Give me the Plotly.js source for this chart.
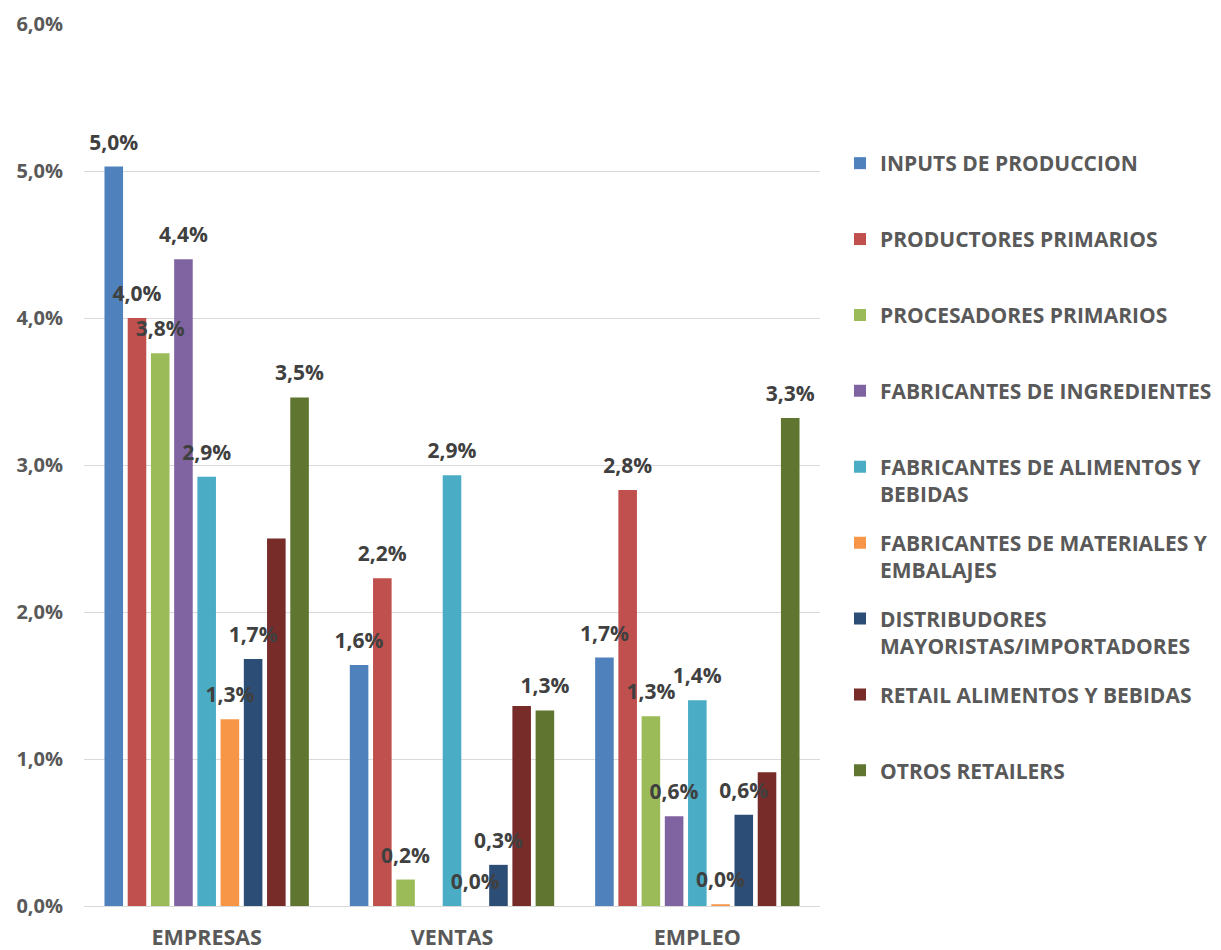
<!DOCTYPE html>
<html>
<head>
<meta charset="utf-8">
<script src="https://cdn.plot.ly/plotly-3.0.1.min.js"></script>
<style>
  html, body { margin: 0; padding: 0; background: #ffffff; }
  #chart { width: 1221px; height: 950px; }
</style>
</head>
<body>
<div id="chart"></div>
<script>
// ---- data ----
var categories = ['EMPRESAS', 'VENTAS', 'EMPLEO'];

var seriesNames = [
  'INPUTS DE PRODUCCION',
  'PRODUCTORES PRIMARIOS',
  'PROCESADORES PRIMARIOS',
  'FABRICANTES DE INGREDIENTES',
  'FABRICANTES DE ALIMENTOS Y<br>BEBIDAS',
  'FABRICANTES DE MATERIALES Y<br>EMBALAJES',
  'DISTRIBUDORES<br>MAYORISTAS/IMPORTADORES',
  'RETAIL ALIMENTOS Y BEBIDAS',
  'OTROS RETAILERS'
];

var inputs         = [5.03, 1.64, 1.69];
var productores    = [4.00, 2.23, 2.83];
var procesadores   = [3.76, 0.18, 1.29];
var ingredientes   = [4.40, null, 0.61];
var alimentos      = [2.92, 2.93, 1.40];
var materiales     = [1.27, 0.00, 0.012];
var distribuidores = [1.68, 0.28, 0.62];
var retail         = [2.50, 1.36, 0.91];
var otros          = [3.46, 1.33, 3.32];

var inputsLbl         = ['5,0%', '1,6%', '1,7%'];
var productoresLbl    = ['4,0%', '2,2%', '2,8%'];
var procesadoresLbl   = ['3,8%', '0,2%', '1,3%'];
var ingredientesLbl   = ['4,4%', '', '0,6%'];
var alimentosLbl      = ['2,9%', '2,9%', '1,4%'];
var materialesLbl     = ['1,3%', '0,0%', '0,0%'];
var distribuidoresLbl = ['1,7%', '0,3%', '0,6%'];
var retailLbl         = ['', '', ''];
var otrosLbl          = ['3,5%', '1,3%', '3,3%'];

var yTickVals  = [0, 1, 2, 3, 4, 5, 6];
var yTickText  = ['0,0%', '1,0%', '2,0%', '3,0%', '4,0%', '5,0%', '6,0%'];

// ---- styling ----
var colors = ['#4F81BD', '#C0504D', '#9BBB59', '#8064A2', '#4BACC6',
              '#F79646', '#2C4D75', '#772C2A', '#5F7530'];

var values = [inputs, productores, procesadores, ingredientes, alimentos,
              materiales, distribuidores, retail, otros];
var labels = [inputsLbl, productoresLbl, procesadoresLbl, ingredientesLbl, alimentosLbl,
              materialesLbl, distribuidoresLbl, retailLbl, otrosLbl];

var FONT = 'Open Sans, Noto Sans, Liberation Sans, sans-serif';

// pixel geometry of the plot area
var W = 1221, H = 950;
var mL = 84, mR = 401, mT = 24, mB = 44;
var plotW = W - mL - mR, plotH = H - mT - mB;
var pxPerUnit = plotH / 6;
var labelLiftPx = 8;

var traces = [];
values.forEach(function (vals, i) {
  traces.push({
    type: 'bar',
    name: seriesNames[i],
    x: categories,
    y: vals,
    marker: { color: colors[i], line: { width: 0 } },
    legend: i === 0 ? 'legend' : 'legend' + (i + 1),
    hoverinfo: 'skip'
  });
});
// label layer drawn above all bars
values.forEach(function (vals, i) {
  traces.push({
    type: 'bar',
    name: seriesNames[i],
    x: categories,
    y: vals,
    xaxis: 'x2',
    yaxis: 'y2',
    marker: { color: 'rgba(0,0,0,0)', line: { width: 0 } },
    text: labels[i],
    textposition: 'outside',
    constraintext: 'none',
    cliponaxis: false,
    textfont: { family: FONT, size: 21, color: '#404040', weight: 'bold' },
    showlegend: false,
    hoverinfo: 'skip'
  });
});

var layout = {
  width: W,
  height: H,
  margin: { l: mL, r: mR, t: mT, b: mB, pad: 0, autoexpand: false },
  paper_bgcolor: '#ffffff',
  plot_bgcolor: '#ffffff',
  separators: ',.',
  barmode: 'group',
  bargap: 0.148,
  bargroupgap: 0.2,
  showlegend: true,
  xaxis: {
    type: 'category',
    categoryorder: 'array',
    categoryarray: categories,
    showgrid: false,
    zeroline: false,
    showline: false,
    ticks: '',
    ticklabelstandoff: 16,
    tickfont: { family: FONT, size: 21.5, color: '#595959', weight: 'bold' },
    automargin: false,
    fixedrange: true
  },
  xaxis2: {
    type: 'category',
    overlaying: 'x',
    matches: 'x',
    visible: false,
    fixedrange: true
  },
  yaxis: {
    range: [0, 6],
    tickmode: 'array',
    tickvals: yTickVals,
    ticktext: yTickText,
    showgrid: true,
    gridcolor: '#D9D9D9',
    gridwidth: 1,
    zeroline: true,
    zerolinecolor: '#D9D9D9',
    zerolinewidth: 1,
    showline: false,
    ticks: '',
    ticklabelstandoff: 20,
    tickfont: { family: FONT, size: 20, color: '#595959', weight: 'bold' },
    automargin: false,
    fixedrange: true
  },
  yaxis2: {
    overlaying: 'y',
    range: [-labelLiftPx / pxPerUnit, 6 - labelLiftPx / pxPerUnit],
    visible: false,
    fixedrange: true
  }
};

// one legend block per series, evenly spaced as in the reference
var legendTop0 = 143, legendStep = 75.9, legendLeft = 840;
for (var i = 0; i < seriesNames.length; i++) {
  var key = i === 0 ? 'legend' : 'legend' + (i + 1);
  layout[key] = {
    x: (legendLeft - mL) / plotW,
    xanchor: 'left',
    y: (H - mB - (legendTop0 + i * legendStep)) / plotH,
    yanchor: 'top',
    bgcolor: 'rgba(0,0,0,0)',
    borderwidth: 0,
    valign: 'top',
    itemwidth: 30,
    tracegroupgap: 0,
    font: { family: FONT, size: 21, color: '#595959', weight: 'bold' }
  };
}

Plotly.newPlot('chart', traces, layout, { displayModeBar: false, staticPlot: true });
</script>
</body>
</html>
